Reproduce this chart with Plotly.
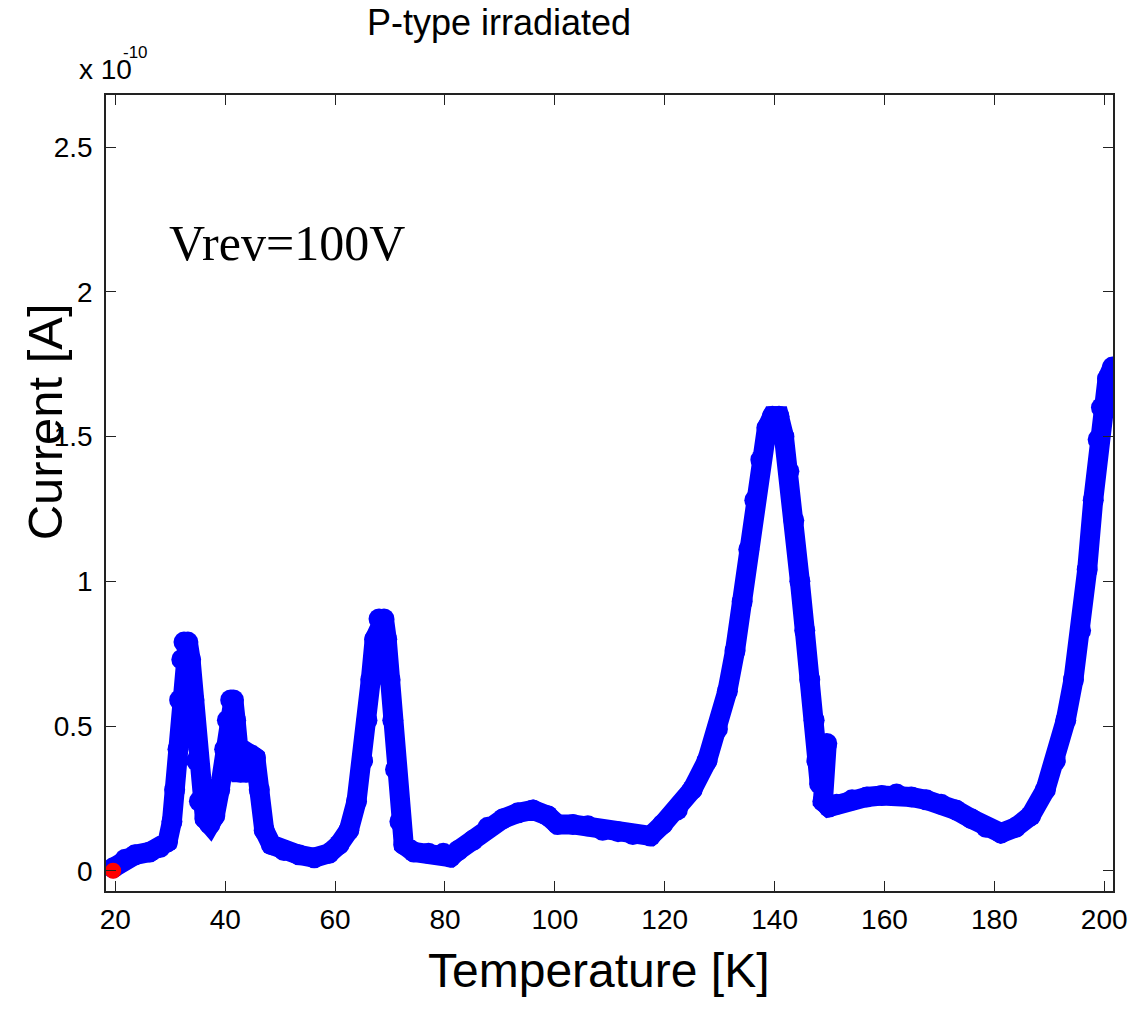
import plotly.graph_objects as go

# Temperature [K] and current [x 1e-10 A]
temperature = [19.6, 21.8, 23.6, 26.3, 28.1, 29.5, 30.3, 30.8, 31.4, 31.7, 32.1, 32.5, 33.2,
               33.7, 34.3, 34.8, 35.3, 36.3, 37.2, 38.1, 39.0, 39.9, 40.4, 41.0, 41.5, 41.9,
               42.8, 43.8, 44.7, 45.5, 46.2, 47.1, 48.4, 50.7, 53.4, 56.2, 58.9, 60.7,
               62.5, 63.9, 65.0, 65.8, 66.5, 67.2, 68.0, 68.9, 69.4, 70.0, 70.5, 71.0, 71.8,
               72.5, 74.3, 77.0, 79.7, 81.0, 82.4, 85.1, 87.8, 90.6, 93.3, 96.0, 98.7,
               100.5, 103.3, 106.0, 108.7, 111.5, 114.2, 117.4, 119.6, 122.3, 125.0,
               127.7, 129.6, 131.4, 132.8, 134.1, 135.3, 136.4, 137.5, 138.6, 139.6, 140.8,
               141.7, 142.6, 143.5, 144.6, 145.5, 146.4, 147.2, 147.7, 148.2, 149.5,
               148.8, 149.9, 151.3, 154.1, 156.8, 159.5, 162.2, 164.9, 167.6, 170.3,
               173.0, 175.8, 178.5, 181.2, 183.9, 186.6, 189.3, 191.1, 193.0, 194.4,
               195.7, 196.9, 198.0, 198.9, 199.5, 200.6, 201.5]
current = [0.01, 0.04, 0.055, 0.065, 0.08, 0.10, 0.17, 0.28, 0.42, 0.59, 0.73, 0.79, 0.79,
           0.73, 0.59, 0.38, 0.24, 0.18, 0.16, 0.19, 0.28, 0.42, 0.52, 0.59, 0.59, 0.52,
           0.34, 0.34, 0.40, 0.39, 0.28, 0.14, 0.09, 0.07, 0.055, 0.045, 0.06, 0.09,
           0.14, 0.24, 0.38, 0.52, 0.66, 0.80, 0.87, 0.87, 0.80, 0.66, 0.52, 0.35, 0.17,
           0.09, 0.065, 0.06, 0.06, 0.047, 0.07, 0.105, 0.15, 0.18, 0.20, 0.21, 0.19,
           0.16, 0.16, 0.155, 0.14, 0.135, 0.125, 0.12, 0.16, 0.21, 0.28,
           0.38, 0.49, 0.62, 0.76, 0.93, 1.11, 1.28, 1.42, 1.53, 1.57, 1.57,
           1.50, 1.38, 1.21, 1.00, 0.83, 0.66, 0.52, 0.38, 0.30, 0.44,
           0.24, 0.22, 0.23, 0.245, 0.255, 0.26, 0.265, 0.255, 0.245, 0.23,
           0.21, 0.18, 0.15, 0.13, 0.15, 0.19, 0.28, 0.38, 0.52, 0.66,
           0.83, 1.04, 1.28, 1.49, 1.60, 1.70, 1.74]

start_t = [19.6]
start_i = [0.0]

x_ticks = [20, 40, 60, 80, 100, 120, 140, 160, 180, 200]
y_ticks = [0, 0.5, 1, 1.5, 2, 2.5]
y_tick_labels = ["0", "0.5", "1", "1.5", "2", "2.5"]

FONT = "Liberation Sans"

fig = go.Figure()
fig.add_trace(go.Scatter(x=temperature, y=current, mode="lines+markers",
                         line=dict(color="#0000ff", width=20),
                         marker=dict(color="#0000ff", size=21, symbol="circle"),
                         showlegend=False, hoverinfo="skip"))
fig.add_trace(go.Scatter(x=start_t, y=start_i, mode="markers",
                         marker=dict(color="#ff0000", size=16),
                         showlegend=False, hoverinfo="skip"))

axis_common = dict(showline=True, linecolor="#222222", linewidth=1.5, mirror="ticks",
                   ticks="inside", ticklen=10, tickwidth=1.3, tickcolor="#222222",
                   showgrid=False, zeroline=False,
                   tickfont=dict(family=FONT, size=28, color="#000000"))

fig.update_xaxes(range=[18.3, 201.6], tickvals=x_ticks, ticklabelstandoff=3, **axis_common)
fig.update_yaxes(range=[-0.07, 2.68], tickvals=y_ticks, ticktext=y_tick_labels,
                 ticklabelstandoff=6, **axis_common)

annotations = [
    dict(text="P-type irradiated", x=(501 - 106) / 1012, y=(891 - 22) / 796,
         xref="paper", yref="paper", showarrow=False,
         font=dict(family=FONT, size=36, color="#000000"), xanchor="center", yanchor="middle"),
    dict(text="x 10", x=(78 - 106) / 1012, y=(891 - 70) / 796,
         xref="paper", yref="paper", showarrow=False, borderpad=0,
         font=dict(family=FONT, size=28, color="#000000"), xanchor="left", yanchor="middle"),
    dict(text="-10", x=(122 - 106) / 1012, y=(891 - 52) / 796,
         xref="paper", yref="paper", showarrow=False, borderpad=0,
         font=dict(family=FONT, size=17, color="#000000"), xanchor="left", yanchor="middle"),
    dict(text="Vrev=100V", x=(167 - 106) / 1012, y=(891 - 243) / 796,
         xref="paper", yref="paper", showarrow=False,
         font=dict(family="Liberation Serif", size=50, color="#000000"),
         xanchor="left", yanchor="middle"),
    dict(text="Current [A]", x=(45 - 106) / 1012, y=(891 - 422) / 796,
         xref="paper", yref="paper", showarrow=False, textangle=-90,
         font=dict(family=FONT, size=49, color="#000000"), xanchor="center", yanchor="middle"),
    dict(text="Temperature [K]", x=(601 - 106) / 1012, y=(891 - 970) / 796,
         xref="paper", yref="paper", showarrow=False,
         font=dict(family=FONT, size=48, color="#000000"), xanchor="center", yanchor="middle"),
]

fig.update_layout(width=1140, height=1014,
                  margin=dict(l=106, r=22, t=95, b=123),
                  paper_bgcolor="#ffffff", plot_bgcolor="#ffffff",
                  annotations=annotations)

fig.write_html("out.html")
